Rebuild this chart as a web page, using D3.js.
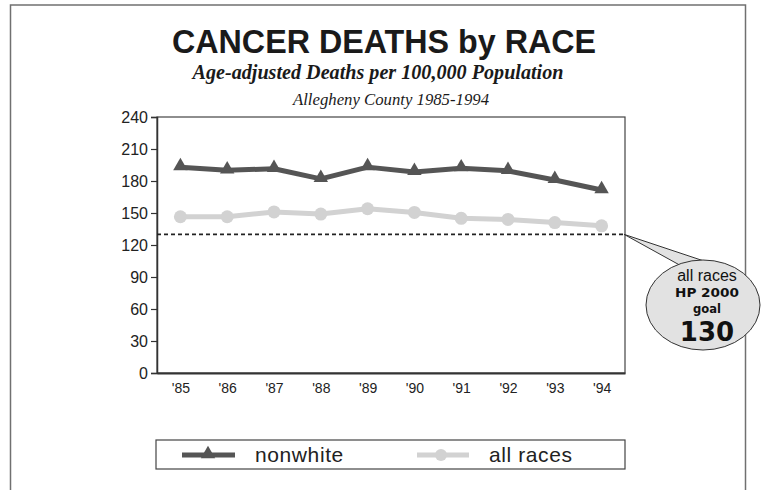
<!DOCTYPE html>
<html>
<head>
<meta charset="utf-8">
<script src="https://cdn.jsdelivr.net/npm/d3@7"></script>
<style>
  html, body { margin: 0; padding: 0; background: #fff; }
  svg { display: block; }
</style>
</head>
<body>
<svg id="chart" width="761" height="490"></svg>
<script>
// Age-adjusted cancer deaths per 100,000, Allegheny County
const years = ["'85", "'86", "'87", "'88", "'89", "'90", "'91", "'92", "'93", "'94"];
const nonwhite = [193, 190, 191.5, 182, 193, 188.5, 192, 189.5, 181, 171.5];
const allRaces = [146.5, 146.5, 151, 149, 154, 150.5, 145, 144, 141, 138];
const yTicks = [0, 30, 60, 90, 120, 150, 180, 210, 240];
const goalValue = 130;
const goalLines = ["all races", "HP 2000", "goal", "130"];
const seriesNames = ["nonwhite", "all races"];

const svg = d3.select("#chart");

const plot = { left: 157, right: 625, top: 117, bottom: 373 };

const x = d3.scalePoint().domain(years).range([plot.left, plot.right]).padding(0.5);
const y = d3.scaleLinear().domain([0, 240]).range([plot.bottom, plot.top]);

// Outer frame
svg.append("rect")
  .attr("x", 10.5).attr("y", 5)
  .attr("width", 735).attr("height", 520)
  .attr("fill", "none").attr("stroke", "#707070").attr("stroke-width", 1.5);

// Titles
svg.append("text")
  .attr("x", 384).attr("y", 53)
  .attr("text-anchor", "middle")
  .attr("font-family", "'Liberation Sans', Arial, sans-serif")
  .attr("font-weight", "bold").attr("font-size", 33)
  .attr("textLength", 424).attr("lengthAdjust", "spacingAndGlyphs")
  .attr("fill", "#1a1a1a")
  .text("CANCER DEATHS by RACE");

svg.append("text")
  .attr("x", 378).attr("y", 79)
  .attr("text-anchor", "middle")
  .attr("font-family", "'Liberation Serif', 'Times New Roman', serif")
  .attr("font-weight", "bold").attr("font-style", "italic").attr("font-size", 20)
  .attr("textLength", 371).attr("lengthAdjust", "spacingAndGlyphs")
  .attr("fill", "#1a1a1a")
  .text("Age-adjusted Deaths per 100,000 Population");

svg.append("text")
  .attr("x", 391).attr("y", 105)
  .attr("text-anchor", "middle")
  .attr("font-family", "'Liberation Serif', 'Times New Roman', serif")
  .attr("font-style", "italic").attr("font-size", 16)
  .attr("textLength", 196).attr("lengthAdjust", "spacingAndGlyphs")
  .attr("fill", "#1a1a1a")
  .text("Allegheny County 1985-1994");

// Plot box
svg.append("rect")
  .attr("x", plot.left).attr("y", plot.top)
  .attr("width", plot.right - plot.left).attr("height", plot.bottom - plot.top)
  .attr("fill", "none").attr("stroke", "#444").attr("stroke-width", 1.2);

// Y axis
const yAxis = svg.append("g")
  .attr("transform", `translate(${plot.left},0)`)
  .call(d3.axisLeft(y).tickValues(yTicks).tickSize(6).tickPadding(3).tickFormat(d3.format("d")));
yAxis.select(".domain").attr("stroke", "#333").attr("stroke-width", 1.5);
yAxis.selectAll(".tick line").attr("stroke", "#333").attr("stroke-width", 1.2);
yAxis.selectAll(".tick text")
  .attr("font-family", "'Liberation Sans', Arial, sans-serif")
  .attr("font-size", 16).attr("fill", "#222");

// X axis
const xAxis = svg.append("g")
  .attr("transform", `translate(0,${plot.bottom})`)
  .call(d3.axisBottom(x).tickSize(0).tickPadding(10));
xAxis.select(".domain").attr("stroke", "#333").attr("stroke-width", 2);
xAxis.selectAll(".tick text")
  .attr("font-family", "'Liberation Sans', Arial, sans-serif")
  .attr("font-size", 14).attr("fill", "#222");

// Goal reference line
svg.append("line")
  .attr("x1", plot.left).attr("x2", plot.right)
  .attr("y1", y(goalValue)).attr("y2", y(goalValue))
  .attr("stroke", "#222").attr("stroke-width", 1.6)
  .attr("stroke-dasharray", "4,3");

const line = d3.line().x((d, i) => x(years[i])).y(d => y(d));

const darkCol = "#555555";
const lightCol = "#d2d2d2";
const triangle = d3.symbol().type(d3.symbolTriangle).size(90);

// all races series
svg.append("path").datum(allRaces)
  .attr("d", line).attr("fill", "none")
  .attr("stroke", lightCol).attr("stroke-width", 5).attr("stroke-linejoin", "round");
svg.selectAll("circle.allraces").data(allRaces).join("circle")
  .attr("class", "allraces")
  .attr("cx", (d, i) => x(years[i])).attr("cy", d => y(d))
  .attr("r", 6.5).attr("fill", lightCol);

// nonwhite series
svg.append("path").datum(nonwhite)
  .attr("d", line).attr("fill", "none")
  .attr("stroke", darkCol).attr("stroke-width", 5).attr("stroke-linejoin", "round");
svg.selectAll("path.nonwhite").data(nonwhite).join("path")
  .attr("class", "nonwhite")
  .attr("d", triangle)
  .attr("transform", (d, i) => `translate(${x(years[i])},${y(d) - 1})`)
  .attr("fill", darkCol);

// Goal callout bubble
const tip = [plot.right - 1, y(goalValue)];
const bub = { cx: 703, cy: 305, rx: 57, ry: 45 };
const callout = svg.append("g");
callout.append("path")
  .attr("d", `M${tip[0]},${tip[1]} L685,268 L707,262 Z`)
  .attr("fill", "#e2e2e2").attr("stroke", "#333").attr("stroke-width", 1);
callout.append("ellipse")
  .attr("cx", bub.cx).attr("cy", bub.cy).attr("rx", bub.rx).attr("ry", bub.ry)
  .attr("fill", "#e2e2e2").attr("stroke", "#333").attr("stroke-width", 1);
// blend the tail into the bubble
callout.append("path")
  .attr("d", `M683,269.5 L710,263 L706,273 Z`)
  .attr("fill", "#e2e2e2");

const heavy = "'DejaVu Sans', sans-serif";
callout.append("text")
  .attr("x", 707).attr("y", 281).attr("text-anchor", "middle")
  .attr("font-family", "'Liberation Sans', Arial, sans-serif")
  .attr("font-size", 16).attr("fill", "#111")
  .text(goalLines[0]);
callout.append("text")
  .attr("x", 707).attr("y", 297).attr("text-anchor", "middle")
  .attr("font-family", heavy).attr("font-weight", "bold")
  .attr("font-size", 13)
  .attr("textLength", 64).attr("lengthAdjust", "spacingAndGlyphs")
  .attr("fill", "#111")
  .text(goalLines[1]);
callout.append("text")
  .attr("x", 707).attr("y", 312.5).attr("text-anchor", "middle")
  .attr("font-family", heavy).attr("font-weight", "bold")
  .attr("font-size", 13)
  .attr("textLength", 28).attr("lengthAdjust", "spacingAndGlyphs")
  .attr("fill", "#111")
  .text(goalLines[2]);
callout.append("text")
  .attr("x", 707).attr("y", 341).attr("text-anchor", "middle")
  .attr("font-family", heavy).attr("font-weight", "bold")
  .attr("font-size", 26).attr("fill", "#111")
  .text(goalLines[3]);

// Legend
const legend = svg.append("g");
legend.append("rect")
  .attr("x", 156).attr("y", 440).attr("width", 469).attr("height", 29)
  .attr("fill", "#fff").attr("stroke", "#444").attr("stroke-width", 1.2);

legend.append("line")
  .attr("x1", 182).attr("x2", 235).attr("y1", 455).attr("y2", 455)
  .attr("stroke", darkCol).attr("stroke-width", 5);
legend.append("path")
  .attr("d", triangle)
  .attr("transform", "translate(208,454)")
  .attr("fill", darkCol);
legend.append("text")
  .attr("x", 255).attr("y", 462)
  .attr("font-family", "'Liberation Sans', Arial, sans-serif")
  .attr("font-size", 21).attr("letter-spacing", 0.6).attr("fill", "#222")
  .text(seriesNames[0]);

legend.append("line")
  .attr("x1", 417).attr("x2", 469).attr("y1", 455).attr("y2", 455)
  .attr("stroke", lightCol).attr("stroke-width", 5);
legend.append("circle")
  .attr("cx", 441).attr("cy", 455).attr("r", 6)
  .attr("fill", lightCol);
legend.append("text")
  .attr("x", 489).attr("y", 462)
  .attr("font-family", "'Liberation Sans', Arial, sans-serif")
  .attr("font-size", 21).attr("letter-spacing", 0.6).attr("fill", "#222")
  .text(seriesNames[1]);
</script>
</body>
</html>
